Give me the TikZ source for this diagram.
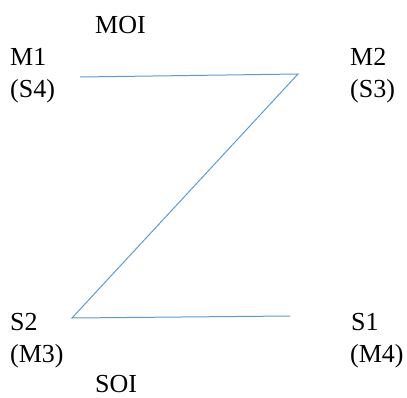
\documentclass[tikz,border=0pt]{standalone}
\usepackage{fontspec}
\setmainfont{Liberation Serif}
\definecolor{zline}{RGB}{91,155,213}

\begin{document}
\begin{tikzpicture}[x=1pt, y=-1pt,
    lbl/.style={anchor=base west, inner sep=0pt, font=\fontsize{26}{31}\selectfont},
    zig/.style={draw=zline, line width=1pt}]
  \useasboundingbox (0,0) rectangle (407,397);
  % labels
  \node[lbl] (moi) at (95,33) {MOI};
  \node[lbl] (m1) at (10,65) {M1};
  \node[lbl] (s4) at (10,97) {(S4)};
  \node[lbl] (m2) at (350,65) {M2};
  \node[lbl] (s3) at (350,97) {(S3)};
  \node[lbl] (s2) at (10,330) {S2};
  \node[lbl] (m3) at (10,362) {(M3)};
  \node[lbl] (s1) at (351,330) {S1};
  \node[lbl] (m4) at (350,362) {(M4)};
  \node[lbl] (soi) at (95,392) {SOI};
  % the Z
  \coordinate (tl) at (80,77);
  \coordinate (tr) at (298,74);
  \coordinate (bl) at (72,318);
  \coordinate (br) at (290,316);
  \draw[zig] (tl) -- (tr) -- (bl) -- (br);
\end{tikzpicture}
\end{document}
